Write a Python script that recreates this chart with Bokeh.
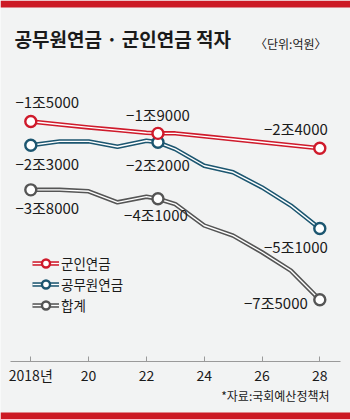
from bokeh.plotting import figure
from bokeh.models import (Range1d, ColumnDataSource, LinearAxis, FixedTicker,
                          Legend, LegendItem)
from bokeh.core.properties import value
from bokeh.embed import file_html
from bokeh.resources import INLINE

# ---------------- data ----------------
years = [2018, 2019, 2020, 2021, 2022, 2022.4, 2023, 2024, 2025, 2026, 2027, 2028]
military = [-15000, -16000, -17000, -17900, -18800, -19000, -19000, -20000, -21000, -22000, -23000, -24000]
civil = [-23000, -21700, -21700, -23500, -21500, -22000, -24300, -29900, -32100, -37200, -43300, -51000]
total = [-38000, -38000, -38500, -42200, -40300, -41000, -42800, -50000, -53400, -59000, -65200, -75000]
marked = [0, 5, 11]          # annotated points (start, middle, end)
series_names = ["군인연금", "공무원연금", "합계"]
tick_years = [2018, 2020, 2022, 2024, 2026, 2028]
tick_labels = ["2018년", "20", "22", "24", "26", "28"]
title_text = "공무원연금 · 군인연금 적자"
unit_text = "〈단위:억원〉"
source_text = "*자료:국회예산정책처"

# ---------------- style ----------------
W, H = 350, 419
BG = "#f2f3f3"
RED = "#cf1a2b"
BLUE = "#1c5670"
GRAY = "#555555"
BAR = "#cc1a24"
INK = "#1a1a1a"
KFONT = "Noto Sans CJK KR"
NFONT = "'Liberation Sans Narrow', 'Noto Sans CJK KR', sans-serif"

X0_PX, PX_PER_YR = 30.3, 28.9
Y0_PX, PX_PER_UNIT = 76.4, 0.002972
x_start = 2018 - X0_PX / PX_PER_YR
x_end = x_start + W / PX_PER_YR
y_top = Y0_PX / PX_PER_UNIT
y_bottom = y_top - H / PX_PER_UNIT


def vx(px):
    return x_start + px / PX_PER_YR


def vy(py):
    return y_top - py / PX_PER_UNIT


def fmt(v):
    a = abs(v)
    return f"−{a // 10000}조{a % 10000:04d}"


p = figure(width=W, height=H, x_range=Range1d(x_start, x_end),
           y_range=Range1d(y_bottom, y_top), output_backend="svg",
           toolbar_location=None, min_border=0, x_axis_type=None,
           y_axis_type=None, background_fill_color=BG,
           border_fill_color=BG, outline_line_color=None)

# red bars top and bottom
p.quad(left=[x_start], right=[x_end], top=[vy(0)], bottom=[vy(7)],
       fill_color=BAR, line_color=None)
p.quad(left=[x_start], right=[x_end], top=[vy(412)], bottom=[vy(419)],
       fill_color=BAR, line_color=None)

# axis
ax = LinearAxis(fixed_location=vy(360.7), bounds=(vx(10), vx(340)),
                ticker=FixedTicker(ticks=tick_years),
                major_label_overrides={y: l for y, l in zip(tick_years, tick_labels)},
                axis_line_color="#9a9a9a", axis_line_width=1,
                major_tick_line_color="#9a9a9a", major_tick_in=5, major_tick_out=0,
                minor_tick_line_color=None, major_label_standoff=4,
                major_label_text_font=NFONT, major_label_text_font_size="14px",
                major_label_text_color=INK)
p.add_layout(ax, "below")

# series
items = []
series = [(total, GRAY, series_names[2]), (civil, BLUE, series_names[1]),
          (military, RED, series_names[0])]
for vals, col, name in series:
    r1 = p.line(years, vals, line_color=col, line_width=4.5, line_join="round")
    r2 = p.line(years, vals, line_color="white", line_width=1.4, line_join="round")
    r3 = p.scatter([years[i] for i in marked], [vals[i] for i in marked],
                   marker="circle", size=11, fill_color="white",
                   line_color=col, line_width=2.4)
    items.append(LegendItem(label=name, renderers=[r1, r2, r3]))
items = items[::-1]

legend = Legend(items=items, location=(32, 104), orientation="vertical",
                background_fill_alpha=0, border_line_color=None,
                glyph_width=27, glyph_height=20, label_height=20, spacing=1,
                padding=0, margin=0, label_standoff=2,
                label_text_font=KFONT, label_text_font_size="13.5px",
                label_text_color=INK)
p.add_layout(legend)

# value labels (offsets in pixels)
offs = {  # (series, point): (dx, dy, align)
    ("m", 0): (16.5, -20, "center"), ("c", 0): (16.5, 18, "center"), ("t", 0): (16.5, 18, "center"),
    ("m", 5): (0, -19, "center"), ("c", 5): (0, 22, "center"), ("t", 5): (-2, 16, "center"),
    ("m", 11): (8, -20, "right"), ("c", 11): (8, 18.5, "right"), ("t", 11): (-12, 3, "right"),
}
data = {"m": military, "c": civil, "t": total}
for align in ("center", "right"):
    src = dict(x=[], y=[], text=[], dx=[], dy=[])
    for (k, i), (dx, dy, al) in offs.items():
        if al != align:
            continue
        src["x"].append(years[i])
        src["y"].append(data[k][i])
        src["text"].append(fmt(data[k][i]))
        src["dx"].append(dx)
        src["dy"].append(dy)
    p.text(x="x", y="y", text="text", x_offset="dx", y_offset="dy",
           source=ColumnDataSource(src), text_align=align,
           text_baseline="middle", text_font=value(NFONT),
           text_font_size="15px", text_color=INK)

# title, unit, source
p.text(x=[vx(14)], y=[vy(38)], text=[title_text], text_font=value(KFONT),
       text_font_style="bold", text_font_size="19px", text_baseline="middle",
       text_color=INK)
p.text(x=[vx(326)], y=[vy(43)], text=[unit_text], text_font=value(KFONT),
       text_font_size="12px", text_baseline="middle", text_align="right",
       text_color=INK)
p.text(x=[vx(329)], y=[vy(395)], text=[source_text], text_font=value(KFONT),
       text_font_size="12px", text_baseline="middle", text_align="right",
       text_color=INK)

open("out.html", "w").write(file_html(p, INLINE))
